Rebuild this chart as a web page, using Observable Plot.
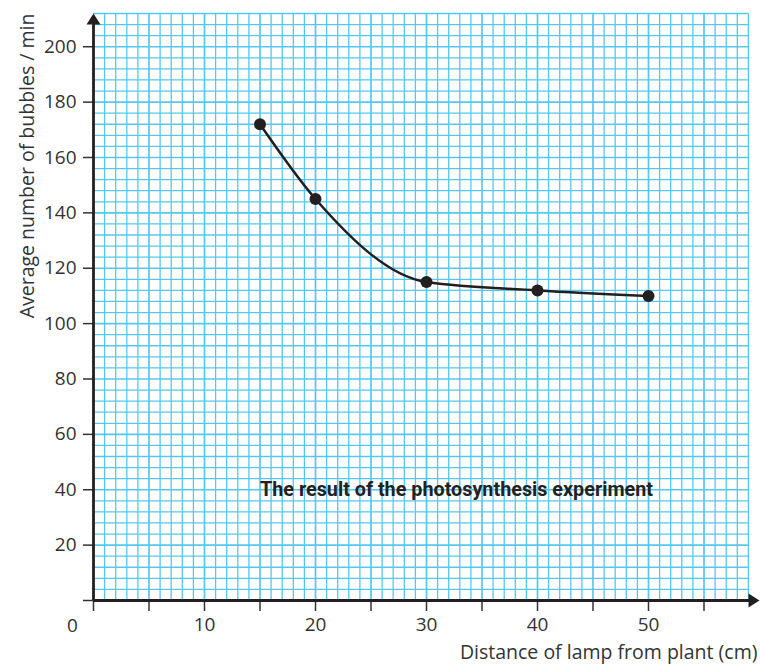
<!DOCTYPE html>
<html>
<head>
<meta charset="utf-8">
<script src="https://cdn.jsdelivr.net/npm/d3@7"></script>
<script src="https://cdn.jsdelivr.net/npm/@observablehq/plot@0.6"></script>
<style>
  html, body { margin: 0; padding: 0; background: #fff; }
  #chart { width: 760px; height: 667px; }
</style>
</head>
<body>
<div id="chart"></div>
<script>
// Data
const distance = [15, 20, 30, 40, 50];        // cm
const bubbles  = [172, 145, 115, 112, 110];   // bubbles / min

// Tick values and labels
const xTickValues = [0, 5, 10, 15, 20, 25, 30, 35, 40, 45, 50, 55];
const xTickLabels = [10, 20, 30, 40, 50];
const yTickValues = [0, 20, 40, 60, 80, 100, 120, 140, 160, 180, 200];
const yTickLabels = [20, 40, 60, 80, 100, 120, 140, 160, 180, 200];

// Grid extent (graph paper)
const xGridMax = 59;
const yGridMax = 212;
const xMax = 60;

const points = distance.map((d, i) => ({distance: d, bubbles: bubbles[i]}));
const xGrid = d3.range(1, xGridMax + 1, 1);
const yGrid = d3.range(4, yGridMax + 1, 4);

const gridColor = "#55c8f1";
const ink = "#231f20";

const arrowSymbol = {
  draw(ctx) {
    ctx.moveTo(0, 0);
    ctx.lineTo(7, 11);
    ctx.lineTo(-7, 11);
    ctx.closePath();
  }
};

const chart = Plot.plot({
  width: 760,
  height: 667,
  marginLeft: 93,
  marginRight: 1,
  marginTop: 13,
  marginBottom: 67,
  style: {fontFamily: "'Open Sans', sans-serif", color: "#333", background: "#fff"},
  x: {domain: [0, xMax]},
  y: {domain: [0, yGridMax]},
  marks: [
    // graph-paper grid
    Plot.ruleX(xGrid, {y1: 0, y2: yGridMax, stroke: gridColor, strokeWidth: d => d % 5 === 0 ? 1.7 : 1.3}),
    Plot.ruleY(yGrid, {x1: 0, x2: xGridMax, stroke: gridColor, strokeWidth: d => d % 20 === 0 ? 1.7 : 1.3}),
    // axes
    Plot.axisX({ticks: xTickValues, tickSize: 11, tickPadding: 6, fontSize: 19,
      tickFormat: d => xTickLabels.includes(d) ? String(d) : "", label: null,
      stroke: "#333", strokeWidth: 1.5}),
    Plot.axisY({ticks: yTickValues, tickSize: 10, tickPadding: 7, fontSize: 19,
      tickFormat: d => yTickLabels.includes(d) ? String(d) : "", label: null,
      stroke: "#333", strokeWidth: 1.5}),
    Plot.ruleX([0], {y1: 0, y2: yGridMax - 3, stroke: ink, strokeWidth: 2.8}),
    Plot.ruleY([0], {x1: 0, x2: xMax - 0.5, stroke: ink, strokeWidth: 2.8}),
    Plot.dot([{x: 0, y: yGridMax}], {x: "x", y: "y", symbol: arrowSymbol, fill: ink, stroke: null}),
    Plot.dot([{x: xMax, y: 0}], {x: "x", y: "y", symbol: arrowSymbol, fill: ink, stroke: null, rotate: 90}),
    Plot.text(["0"], {x: 0, y: 0, text: d => d, dx: -21, dy: 25, fontSize: 19, fill: "#333"}),
    // axis titles
    Plot.text(["Average number of bubbles / min"], {frameAnchor: "top-left", text: d => d,
      rotate: -90, textAnchor: "end", dx: -73, dy: 0, fontSize: 19.5, fill: "#333"}),
    Plot.text(["Distance of lamp from plant (cm)"], {frameAnchor: "bottom-right", text: d => d,
      textAnchor: "end", dx: -2, dy: 58, fontSize: 19.5, fill: "#333"}),
    // data
    Plot.line(points, {x: "distance", y: "bubbles", curve: "monotone-x", stroke: ink, strokeWidth: 2.5}),
    Plot.dot(points, {x: "distance", y: "bubbles", r: 6, fill: ink, stroke: null}),
    // annotation
    Plot.text(["The result of the photosynthesis experiment"], {x: 15, y: 40, text: d => d,
      textAnchor: "start", fontSize: 21, fontWeight: "bold", fill: "#222",
      fontFamily: "Roboto, sans-serif", className: "note"})
  ]
});

// condense the annotation to the reference width
chart.querySelectorAll(".note text").forEach(t => {
  t.setAttribute("textLength", 393);
  t.setAttribute("lengthAdjust", "spacingAndGlyphs");
});

document.getElementById("chart").appendChild(chart);
</script>
</body>
</html>
